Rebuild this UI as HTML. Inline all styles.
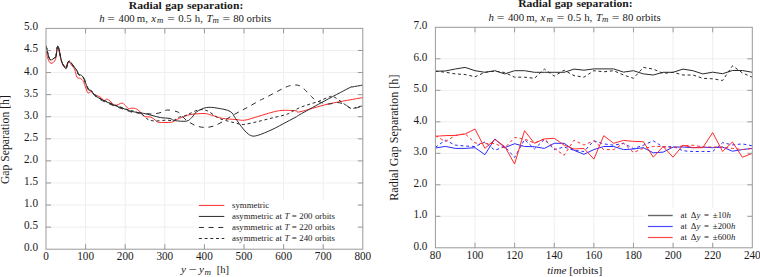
<!DOCTYPE html><html><head><meta charset="utf-8"><style>html,body{margin:0;padding:0;background:#fff;}svg{display:block}</style></head><body>
<svg width="760" height="277" viewBox="0 0 760 277" style="font-family:'Liberation Serif', serif">
<rect width="760" height="277" fill="#fff"/>
<g stroke="#eeeeee" stroke-width="1" fill="none"><line x1="85.6" y1="28.4" x2="85.6" y2="249.2"/><line x1="125.2" y1="28.4" x2="125.2" y2="249.2"/><line x1="164.8" y1="28.4" x2="164.8" y2="249.2"/><line x1="204.4" y1="28.4" x2="204.4" y2="249.2"/><line x1="244" y1="28.4" x2="244" y2="249.2"/><line x1="283.6" y1="28.4" x2="283.6" y2="249.2"/><line x1="323.2" y1="28.4" x2="323.2" y2="249.2"/><line x1="46" y1="227.12" x2="362.8" y2="227.12"/><line x1="46" y1="205.04" x2="362.8" y2="205.04"/><line x1="46" y1="182.96" x2="362.8" y2="182.96"/><line x1="46" y1="160.88" x2="362.8" y2="160.88"/><line x1="46" y1="138.8" x2="362.8" y2="138.8"/><line x1="46" y1="116.72" x2="362.8" y2="116.72"/><line x1="46" y1="94.64" x2="362.8" y2="94.64"/><line x1="46" y1="72.56" x2="362.8" y2="72.56"/><line x1="46" y1="50.48" x2="362.8" y2="50.48"/></g>
<g stroke="#eeeeee" stroke-width="1" fill="none"><line x1="475.01" y1="27.3" x2="475.01" y2="247.8"/><line x1="514.62" y1="27.3" x2="514.62" y2="247.8"/><line x1="554.24" y1="27.3" x2="554.24" y2="247.8"/><line x1="593.85" y1="27.3" x2="593.85" y2="247.8"/><line x1="633.46" y1="27.3" x2="633.46" y2="247.8"/><line x1="673.08" y1="27.3" x2="673.08" y2="247.8"/><line x1="712.69" y1="27.3" x2="712.69" y2="247.8"/><line x1="435.4" y1="216.3" x2="752.3" y2="216.3"/><line x1="435.4" y1="184.8" x2="752.3" y2="184.8"/><line x1="435.4" y1="153.3" x2="752.3" y2="153.3"/><line x1="435.4" y1="121.8" x2="752.3" y2="121.8"/><line x1="435.4" y1="90.3" x2="752.3" y2="90.3"/><line x1="435.4" y1="58.8" x2="752.3" y2="58.8"/></g>
<defs><clipPath id="cl"><rect x="46.0" y="28.4" width="316.8" height="220.79999999999998"/></clipPath><clipPath id="cr"><rect x="435.4" y="27.3" width="316.9" height="220.5"/></clipPath></defs>
<g clip-path="url(#cl)" fill="none" stroke-width="1.0" stroke-linejoin="round">
<path stroke="#ff2a2a" d="M46.2,50.3 C46.47,51.65 47,56.23 47.8,58.4 C48.6,60.57 49.73,63.12 51,63.3 C52.27,63.48 54.32,62.03 55.4,59.5 C56.48,56.97 56.78,49 57.5,48.1 C58.22,47.2 58.78,51.2 59.7,54.1 C60.62,57 61.92,63.43 63,65.5 C64.08,67.57 65.32,67.15 66.2,66.5 C67.08,65.85 67.3,61.68 68.3,61.6 C69.3,61.52 71.12,64.63 72.2,66 C73.28,67.37 74,67.92 74.8,69.8 C75.6,71.68 76.08,75.87 77,77.3 C77.92,78.73 79.3,77.85 80.3,78.4 C81.3,78.95 82.3,79.63 83,80.6 C83.7,81.57 83.7,82.17 84.5,84.2 C85.3,86.23 86.72,91.53 87.8,92.8 C88.88,94.07 89.65,91.35 91,91.8 C92.35,92.25 94.45,94.7 95.9,95.5 C97.35,96.3 98.35,95.78 99.7,96.6 C101.05,97.42 102.82,99.98 104,100.4 C105.18,100.82 105.8,99 106.8,99.1 C107.8,99.2 108.65,99.97 110,101 C111.35,102.03 112.92,104.95 114.9,105.3 C116.88,105.65 120.28,103.18 121.9,103.1 C123.52,103.02 123.52,103.9 124.6,104.8 C125.68,105.7 127.25,107.93 128.4,108.5 C129.55,109.07 130.32,108.2 131.5,108.2 C132.68,108.2 134.1,107.95 135.5,108.5 C136.9,109.05 138.45,110.2 139.9,111.5 C141.35,112.8 142.33,115.35 144.2,116.3 C146.07,117.25 149.23,116.55 151.1,117.2 C152.97,117.85 154.1,119.35 155.4,120.2 C156.7,121.05 156.23,121.97 158.9,122.3 C161.57,122.63 168.58,122.58 171.4,122.2 C174.22,121.82 173.82,120.9 175.8,120 C177.78,119.1 180.93,117.7 183.3,116.8 C185.67,115.9 186.53,115.15 190,114.6 C193.47,114.05 200.48,113.4 204.1,113.5 C207.72,113.6 208.63,114.38 211.7,115.2 C214.77,116.02 218.45,117.68 222.5,118.4 C226.55,119.12 232.3,119.2 236,119.5 C239.7,119.8 241.1,120.68 244.7,120.2 C248.3,119.72 253.05,117.92 257.6,116.6 C262.15,115.28 267.9,113.33 272,112.3 C276.1,111.27 278.2,110.65 282.2,110.4 C286.2,110.15 293.03,110.57 296,110.8 C298.97,111.03 294.52,112.95 300,111.8 C305.48,110.65 318.43,106.27 328.9,103.9 C339.37,101.53 357.15,98.65 362.8,97.6"/>
<path stroke="#2a2a2a" d="M46.2,46 C46.38,46.8 46.85,48.92 47.3,50.8 C47.75,52.68 48.28,55.77 48.9,57.3 C49.52,58.83 50.1,59.9 51,60 C51.9,60.1 53.48,58.52 54.3,57.9 C55.12,57.28 55.37,58.2 55.9,56.3 C56.43,54.4 56.95,47.58 57.5,46.5 C58.05,45.42 58.57,47.45 59.2,49.8 C59.83,52.15 60.45,57.82 61.3,60.6 C62.15,63.38 63.48,65.18 64.3,66.5 C65.12,67.82 65.43,69.4 66.2,68.5 C66.97,67.6 67.63,61.43 68.9,61.1 C70.17,60.77 72.45,64.88 73.8,66.5 C75.15,68.12 76.2,69.45 77,70.8 C77.8,72.15 77.88,73.87 78.6,74.6 C79.32,75.33 80.3,74.38 81.3,75.2 C82.3,76.02 83.97,78.37 84.6,79.5 C85.23,80.63 84.48,80.42 85.1,82 C85.72,83.58 87.32,87.55 88.3,89 C89.28,90.45 89.92,89.7 91,90.7 C92.08,91.7 93.43,93.73 94.8,95 C96.17,96.27 97.38,97.22 99.2,98.3 C101.02,99.38 103.18,100.33 105.7,101.5 C108.22,102.67 111.6,104.22 114.3,105.3 C117,106.38 119.37,107.1 121.9,108 C124.43,108.9 127.37,110.03 129.5,110.7 C131.63,111.37 132.4,111.57 134.7,112 C137,112.43 140.42,112.73 143.3,113.3 C146.18,113.87 149.12,114.68 152,115.4 C154.88,116.12 157.6,117.08 160.6,117.6 C163.6,118.12 167.65,118 170,118.5 C172.35,119 171.93,120.17 174.7,120.6 C177.47,121.03 183.72,121.65 186.6,121.1 C189.48,120.55 190.35,118.83 192,117.3 C193.65,115.77 194.12,113.52 196.5,111.9 C198.88,110.28 202.87,108.23 206.3,107.6 C209.73,106.97 213.13,107.47 217.1,108.1 C221.07,108.73 227.03,109.68 230.1,111.4 C233.17,113.12 233.32,115.48 235.5,118.4 C237.68,121.32 240.72,126.07 243.2,128.9 C245.68,131.73 248,134.32 250.4,135.4 C252.8,136.48 254,136.37 257.6,135.4 C261.2,134.43 267.18,131.83 272,129.6 C276.82,127.37 282.5,124.1 286.5,122 C290.5,119.9 293.75,118.25 296,117 C298.25,115.75 295.72,116.92 300,114.5 C304.28,112.08 313.53,106.92 321.7,102.5 C329.87,98.08 343.95,90.58 349,88 C354.05,85.42 349.7,87.48 352,87 C354.3,86.52 361,85.42 362.8,85.1"/>
<path stroke="#2a2a2a" stroke-dasharray="5 4.7" d="M46.2,46 C46.38,46.8 46.85,48.92 47.3,50.8 C47.75,52.68 48.28,55.77 48.9,57.3 C49.52,58.83 50.1,59.9 51,60 C51.9,60.1 53.48,58.52 54.3,57.9 C55.12,57.28 55.37,58.2 55.9,56.3 C56.43,54.4 56.95,47.58 57.5,46.5 C58.05,45.42 58.57,47.45 59.2,49.8 C59.83,52.15 60.45,57.82 61.3,60.6 C62.15,63.38 63.48,65.18 64.3,66.5 C65.12,67.82 65.43,69.4 66.2,68.5 C66.97,67.6 67.63,61.43 68.9,61.1 C70.17,60.77 72.45,64.88 73.8,66.5 C75.15,68.12 76.2,69.45 77,70.8 C77.8,72.15 77.88,73.87 78.6,74.6 C79.32,75.33 80.3,74.27 81.3,75.2 C82.3,76.13 83.97,78.95 84.6,80.2 C85.23,81.45 84.48,81.12 85.1,82.7 C85.72,84.28 87.32,88.25 88.3,89.7 C89.28,91.15 89.92,90.4 91,91.4 C92.08,92.4 93.43,94.43 94.8,95.7 C96.17,96.97 97.38,97.92 99.2,99 C101.02,100.08 103.18,101.03 105.7,102.2 C108.22,103.37 111.6,104.92 114.3,106 C117,107.08 119.37,107.8 121.9,108.7 C124.43,109.6 127.37,110.73 129.5,111.4 C131.63,112.07 132.12,112.35 134.7,112.7 C137.28,113.05 142.12,113.28 145,113.5 C147.88,113.72 149.67,114.08 152,114 C154.33,113.92 157,113.5 159,113 C161,112.5 162.5,111.5 164,111 C165.5,110.5 165.83,109.88 168,110 C170.17,110.12 174.83,110.93 177,111.7 C179.17,112.47 179.5,113.23 181,114.6 C182.5,115.97 183.67,118.12 186,119.9 C188.33,121.68 192,124.05 195,125.3 C198,126.55 200.92,127.27 204,127.4 C207.08,127.53 210.5,127 213.5,126.1 C216.5,125.2 219.08,123.63 222,122 C224.92,120.37 227.83,118.17 231,116.3 C234.17,114.43 237.83,112.52 241,110.8 C244.17,109.08 246.75,107.8 250,106 C253.25,104.2 257.95,101.37 260.5,100 C263.05,98.63 261.1,99.93 265.3,97.8 C269.5,95.67 280.87,89.32 285.7,87.2 C290.53,85.08 292.05,85.37 294.3,85.1 C296.55,84.83 297.57,84.95 299.2,85.6 C300.83,86.25 302.07,87.2 304.1,89 C306.13,90.8 309.35,94.45 311.4,96.4 C313.45,98.35 313.63,99.43 316.4,100.7 C319.17,101.97 324.57,103.7 328,104 C331.43,104.3 334.17,102.42 337,102.5 C339.83,102.58 342.5,103.5 345,104.5 C347.5,105.5 349.03,108.25 352,108.5 C354.97,108.75 361,106.42 362.8,106"/>
<path stroke="#2a2a2a" stroke-dasharray="3 2.7" d="M46.2,46 C46.38,46.8 46.85,48.92 47.3,50.8 C47.75,52.68 48.28,55.77 48.9,57.3 C49.52,58.83 50.1,59.9 51,60 C51.9,60.1 53.48,58.52 54.3,57.9 C55.12,57.28 55.37,58.2 55.9,56.3 C56.43,54.4 56.95,47.58 57.5,46.5 C58.05,45.42 58.57,47.45 59.2,49.8 C59.83,52.15 60.45,57.82 61.3,60.6 C62.15,63.38 63.48,65.18 64.3,66.5 C65.12,67.82 65.43,69.4 66.2,68.5 C66.97,67.6 67.63,61.43 68.9,61.1 C70.17,60.77 72.45,64.88 73.8,66.5 C75.15,68.12 76.2,69.45 77,70.8 C77.8,72.15 77.88,73.87 78.6,74.6 C79.32,75.33 80.3,74.47 81.3,75.2 C82.3,75.93 83.97,77.95 84.6,79 C85.23,80.05 84.48,79.92 85.1,81.5 C85.72,83.08 87.32,87.05 88.3,88.5 C89.28,89.95 89.92,89.2 91,90.2 C92.08,91.2 93.43,93.23 94.8,94.5 C96.17,95.77 97.38,96.72 99.2,97.8 C101.02,98.88 103.18,99.83 105.7,101 C108.22,102.17 111.6,103.72 114.3,104.8 C117,105.88 119.37,106.6 121.9,107.5 C124.43,108.4 127.37,109.53 129.5,110.2 C131.63,110.87 132.45,110.7 134.7,111.5 C136.95,112.3 140.78,113.67 143,115 C145.22,116.33 146,118.5 148,119.5 C150,120.5 152,120.88 155,121 C158,121.12 162.92,120.28 166,120.2 C169.08,120.12 171.5,120.95 173.5,120.5 C175.5,120.05 175.92,118.33 178,117.5 C180.08,116.67 184,116.17 186,115.5 C188,114.83 187.88,114.45 190,113.5 C192.12,112.55 195.82,110.25 198.7,109.8 C201.58,109.35 204.05,109.45 207.3,110.8 C210.55,112.15 214.77,116.18 218.2,117.9 C221.63,119.62 224.93,120.23 227.9,121.1 C230.87,121.97 233.45,122.53 236,123.1 C238.55,123.67 239.6,124.75 243.2,124.5 C246.8,124.25 252.8,122.68 257.6,121.6 C262.4,120.52 267.18,119.2 272,118 C276.82,116.8 283,115.57 286.5,114.4 C290,113.23 290.68,112.17 293,111 C295.32,109.83 297.73,108.5 300.4,107.4 C303.07,106.3 305.93,105.42 309,104.4 C312.07,103.38 315.73,102.43 318.8,101.3 C321.87,100.17 325.15,98.42 327.4,97.6 C329.65,96.78 330.78,96.27 332.3,96.4 C333.82,96.53 334.88,97.42 336.5,98.4 C338.12,99.38 340.42,101.15 342,102.3 C343.58,103.45 344.5,104.27 346,105.3 C347.5,106.33 349.7,108 351,108.5 C352.3,109 352.8,108.55 353.8,108.3 C354.8,108.05 355.5,107.38 357,107 C358.5,106.62 361.83,106.17 362.8,106"/>
</g>
<g clip-path="url(#cr)" fill="none" stroke-width="1.0" stroke-linejoin="miter">
<polyline stroke="#2a2a2a" points="435.4,71.2 445.3,71 455.21,69 465.11,67.4 475.01,70.7 484.92,72.3 494.82,70.7 504.72,73.9 514.62,70.7 524.53,70.7 534.43,72.3 544.33,72.3 554.24,72.3 564.14,72.3 574.04,69.1 583.95,70.2 593.85,68.9 603.75,68.9 613.66,68.9 623.56,72.1 633.46,70.7 643.37,73.9 653.27,75 663.17,72.3 673.07,72.3 682.98,69.1 692.88,70.7 702.78,73.9 712.69,72.2 722.59,73.7 732.49,70.5 742.4,70.5 752.3,72.3"/>
<polyline stroke="#2a2a2a" stroke-dasharray="3 2.7" points="435.4,71.2 445.3,72.2 455.21,73.9 465.11,74.5 475.01,76.8 484.92,72.3 494.82,71.2 504.72,72.5 514.62,77.2 524.53,77.2 534.43,78.3 544.33,69.1 554.24,76.1 564.14,70.2 574.04,75.6 583.95,77.2 593.85,70.7 603.75,71.8 613.66,70.7 623.56,75 633.46,78.3 643.37,67.4 653.27,69.1 663.17,73.4 673.07,72.3 682.98,75 692.88,75 702.78,78.3 712.69,78.8 722.59,80.5 732.49,65.8 742.4,72.9 752.3,77.2"/>
<polyline stroke="#2a2aff" points="435.4,148 445.3,146.4 455.21,148.4 465.11,148.4 475.01,147.7 484.92,154.7 494.82,138.9 504.72,147.7 514.62,143.7 524.53,146.5 534.43,146.7 544.33,148.4 554.24,143.3 564.14,143.3 574.04,150.3 583.95,154.3 593.85,149.6 603.75,146.5 613.66,146.5 623.56,149.6 633.46,149 643.37,147.7 653.27,152.8 663.17,152.1 673.07,147.1 682.98,147 692.88,147.7 702.78,147.1 712.69,147.7 722.59,147.1 732.49,151.2 742.4,149.6 752.3,148.4"/>
<polyline stroke="#2a2aff" stroke-dasharray="3 2.7" points="435.4,147.3 445.3,140.2 455.21,145.1 465.11,146 475.01,146.5 484.92,142 494.82,150.3 504.72,146.5 514.62,157.5 524.53,139.5 534.43,148.9 544.33,139.5 554.24,149.6 564.14,147 574.04,150.3 583.95,151.5 593.85,140.8 603.75,143.9 613.66,145.2 623.56,143.3 633.46,148.6 643.37,145.2 653.27,140.8 663.17,147.1 673.07,146.5 682.98,150.8 692.88,151.5 702.78,151.5 712.69,151.5 722.59,142.7 732.49,144.9 742.4,143.9 752.3,145.8"/>
<polyline stroke="#ff2a2a" points="435.4,136.3 445.3,135.6 455.21,135.4 465.11,134 475.01,129 484.92,148.4 494.82,139.5 504.72,146.5 514.62,164 524.53,130.7 534.43,143.3 544.33,138.9 554.24,138.3 564.14,145.2 574.04,149 583.95,148.4 593.85,159.1 603.75,135.7 613.66,143.3 623.56,140.4 633.46,141.4 643.37,141.7 653.27,157.2 663.17,146.5 673.07,157.2 682.98,145.2 692.88,147.7 702.78,147.7 712.69,132.6 722.59,151.5 732.49,142 742.4,157.2 752.3,153.4"/>
<polyline stroke="#ff2a2a" stroke-dasharray="3 2.7" points="435.4,135.6 445.3,141.5 455.21,135.6 465.11,133.7 475.01,143 484.92,143.7 494.82,143.5 504.72,148 514.62,137.5 524.53,139 534.43,143 544.33,138.9 554.24,148.4 564.14,155.3 574.04,140.2 583.95,145 593.85,140.8 603.75,149.6 613.66,149.6 623.56,143.3 633.46,152.5 643.37,148.4 653.27,146.5 663.17,146.5 673.07,147.7 682.98,145.8 692.88,145.2 702.78,147 712.69,147 722.59,147.1 732.49,148.4 742.4,149.6 752.3,148.4"/>
</g>
<rect x="194" y="200" width="164" height="44" fill="#fff"/>
<line x1="198.9" y1="205.4" x2="224.3" y2="205.4" stroke="#ff2a2a" stroke-width="1"/>
<text x="232" y="208.4" font-size="8.8" word-spacing="0.3" fill="#1a1a1a">symmetric</text>
<line x1="198.9" y1="216.43" x2="224.3" y2="216.43" stroke="#2a2a2a" stroke-width="1"/>
<text x="232" y="219.43" font-size="8.8" word-spacing="0.3" fill="#1a1a1a">asymmetric at <tspan font-style="italic">T</tspan> = 200 orbits</text>
<line x1="198.9" y1="227.46" x2="224.3" y2="227.46" stroke="#2a2a2a" stroke-width="1" stroke-dasharray="5 4.7"/>
<text x="232" y="230.46" font-size="8.8" word-spacing="0.3" fill="#1a1a1a">asymmetric at <tspan font-style="italic">T</tspan> = 220 orbits</text>
<line x1="198.9" y1="238.49" x2="224.3" y2="238.49" stroke="#2a2a2a" stroke-width="1" stroke-dasharray="3 2.7"/>
<text x="232" y="241.49" font-size="8.8" word-spacing="0.3" fill="#1a1a1a">asymmetric at <tspan font-style="italic">T</tspan> = 240 orbits</text>
<rect x="644" y="208" width="104" height="35" fill="#fff"/>
<line x1="647.9" y1="215.5" x2="672.7" y2="215.5" stroke="#666" stroke-width="1.4"/>
<text x="680.6" y="217.8" font-size="8.8" word-spacing="1.6" fill="#1a1a1a">at Δ<tspan font-style='italic'>y</tspan> = ±10<tspan font-style='italic'>h</tspan></text>
<line x1="647.9" y1="226.5" x2="672.7" y2="226.5" stroke="#4a4aff" stroke-width="1.2"/>
<text x="680.6" y="228.8" font-size="8.8" word-spacing="1.6" fill="#1a1a1a">at Δ<tspan font-style='italic'>y</tspan> = ±200<tspan font-style='italic'>h</tspan></text>
<line x1="647.9" y1="237.5" x2="672.7" y2="237.5" stroke="#ff4a4a" stroke-width="1.2"/>
<text x="680.6" y="239.8" font-size="8.8" word-spacing="1.6" fill="#1a1a1a">at Δ<tspan font-style='italic'>y</tspan> = ±600<tspan font-style='italic'>h</tspan></text>
<g stroke="#999999" stroke-width="1.0" fill="none"><line x1="85.6" y1="249.2" x2="85.6" y2="244.2"/><line x1="85.6" y1="28.4" x2="85.6" y2="33.4"/><line x1="125.2" y1="249.2" x2="125.2" y2="244.2"/><line x1="125.2" y1="28.4" x2="125.2" y2="33.4"/><line x1="164.8" y1="249.2" x2="164.8" y2="244.2"/><line x1="164.8" y1="28.4" x2="164.8" y2="33.4"/><line x1="204.4" y1="249.2" x2="204.4" y2="244.2"/><line x1="204.4" y1="28.4" x2="204.4" y2="33.4"/><line x1="244" y1="249.2" x2="244" y2="244.2"/><line x1="244" y1="28.4" x2="244" y2="33.4"/><line x1="283.6" y1="249.2" x2="283.6" y2="244.2"/><line x1="283.6" y1="28.4" x2="283.6" y2="33.4"/><line x1="323.2" y1="249.2" x2="323.2" y2="244.2"/><line x1="323.2" y1="28.4" x2="323.2" y2="33.4"/><line x1="46" y1="227.12" x2="51" y2="227.12"/><line x1="362.8" y1="227.12" x2="357.8" y2="227.12"/><line x1="46" y1="205.04" x2="51" y2="205.04"/><line x1="362.8" y1="205.04" x2="357.8" y2="205.04"/><line x1="46" y1="182.96" x2="51" y2="182.96"/><line x1="362.8" y1="182.96" x2="357.8" y2="182.96"/><line x1="46" y1="160.88" x2="51" y2="160.88"/><line x1="362.8" y1="160.88" x2="357.8" y2="160.88"/><line x1="46" y1="138.8" x2="51" y2="138.8"/><line x1="362.8" y1="138.8" x2="357.8" y2="138.8"/><line x1="46" y1="116.72" x2="51" y2="116.72"/><line x1="362.8" y1="116.72" x2="357.8" y2="116.72"/><line x1="46" y1="94.64" x2="51" y2="94.64"/><line x1="362.8" y1="94.64" x2="357.8" y2="94.64"/><line x1="46" y1="72.56" x2="51" y2="72.56"/><line x1="362.8" y1="72.56" x2="357.8" y2="72.56"/><line x1="46" y1="50.48" x2="51" y2="50.48"/><line x1="362.8" y1="50.48" x2="357.8" y2="50.48"/><rect x="46" y="28.4" width="316.8" height="220.8"/></g>
<g stroke="#999999" stroke-width="1.0" fill="none"><line x1="475.01" y1="247.8" x2="475.01" y2="242.8"/><line x1="475.01" y1="27.3" x2="475.01" y2="32.3"/><line x1="514.62" y1="247.8" x2="514.62" y2="242.8"/><line x1="514.62" y1="27.3" x2="514.62" y2="32.3"/><line x1="554.24" y1="247.8" x2="554.24" y2="242.8"/><line x1="554.24" y1="27.3" x2="554.24" y2="32.3"/><line x1="593.85" y1="247.8" x2="593.85" y2="242.8"/><line x1="593.85" y1="27.3" x2="593.85" y2="32.3"/><line x1="633.46" y1="247.8" x2="633.46" y2="242.8"/><line x1="633.46" y1="27.3" x2="633.46" y2="32.3"/><line x1="673.08" y1="247.8" x2="673.08" y2="242.8"/><line x1="673.08" y1="27.3" x2="673.08" y2="32.3"/><line x1="712.69" y1="247.8" x2="712.69" y2="242.8"/><line x1="712.69" y1="27.3" x2="712.69" y2="32.3"/><line x1="435.4" y1="216.3" x2="440.4" y2="216.3"/><line x1="752.3" y1="216.3" x2="747.3" y2="216.3"/><line x1="435.4" y1="184.8" x2="440.4" y2="184.8"/><line x1="752.3" y1="184.8" x2="747.3" y2="184.8"/><line x1="435.4" y1="153.3" x2="440.4" y2="153.3"/><line x1="752.3" y1="153.3" x2="747.3" y2="153.3"/><line x1="435.4" y1="121.8" x2="440.4" y2="121.8"/><line x1="752.3" y1="121.8" x2="747.3" y2="121.8"/><line x1="435.4" y1="90.3" x2="440.4" y2="90.3"/><line x1="752.3" y1="90.3" x2="747.3" y2="90.3"/><line x1="435.4" y1="58.8" x2="440.4" y2="58.8"/><line x1="752.3" y1="58.8" x2="747.3" y2="58.8"/><rect x="435.4" y="27.3" width="316.9" height="220.5"/></g>
<g font-size="11.2" fill="#1a1a1a" dominant-baseline="auto"><text transform="translate(46,260.1) scale(1,1.13)" text-anchor="middle">0</text><text transform="translate(85.6,260.1) scale(1,1.13)" text-anchor="middle">100</text><text transform="translate(125.2,260.1) scale(1,1.13)" text-anchor="middle">200</text><text transform="translate(164.8,260.1) scale(1,1.13)" text-anchor="middle">300</text><text transform="translate(204.4,260.1) scale(1,1.13)" text-anchor="middle">400</text><text transform="translate(244,260.1) scale(1,1.13)" text-anchor="middle">500</text><text transform="translate(283.6,260.1) scale(1,1.13)" text-anchor="middle">600</text><text transform="translate(323.2,260.1) scale(1,1.13)" text-anchor="middle">700</text><text transform="translate(362.8,260.1) scale(1,1.13)" text-anchor="middle">800</text><text transform="translate(38,251.2) scale(1,1.13)" text-anchor="end">0.0</text><text transform="translate(38,229.12) scale(1,1.13)" text-anchor="end">0.5</text><text transform="translate(38,207.04) scale(1,1.13)" text-anchor="end">1.0</text><text transform="translate(38,184.96) scale(1,1.13)" text-anchor="end">1.5</text><text transform="translate(38,162.88) scale(1,1.13)" text-anchor="end">2.0</text><text transform="translate(38,140.8) scale(1,1.13)" text-anchor="end">2.5</text><text transform="translate(38,118.72) scale(1,1.13)" text-anchor="end">3.0</text><text transform="translate(38,96.64) scale(1,1.13)" text-anchor="end">3.5</text><text transform="translate(38,74.56) scale(1,1.13)" text-anchor="end">4.0</text><text transform="translate(38,52.48) scale(1,1.13)" text-anchor="end">4.5</text><text transform="translate(38,30.4) scale(1,1.13)" text-anchor="end">5.0</text></g>
<g font-size="11.2" fill="#1a1a1a" dominant-baseline="auto"><text transform="translate(435.4,258.7) scale(1,1.13)" text-anchor="middle">80</text><text transform="translate(475.01,258.7) scale(1,1.13)" text-anchor="middle">100</text><text transform="translate(514.62,258.7) scale(1,1.13)" text-anchor="middle">120</text><text transform="translate(554.24,258.7) scale(1,1.13)" text-anchor="middle">140</text><text transform="translate(593.85,258.7) scale(1,1.13)" text-anchor="middle">160</text><text transform="translate(633.46,258.7) scale(1,1.13)" text-anchor="middle">180</text><text transform="translate(673.08,258.7) scale(1,1.13)" text-anchor="middle">200</text><text transform="translate(712.69,258.7) scale(1,1.13)" text-anchor="middle">220</text><text transform="translate(752.3,258.7) scale(1,1.13)" text-anchor="middle">240</text><text transform="translate(427.4,249.8) scale(1,1.13)" text-anchor="end">0.0</text><text transform="translate(427.4,218.3) scale(1,1.13)" text-anchor="end">1.0</text><text transform="translate(427.4,186.8) scale(1,1.13)" text-anchor="end">2.0</text><text transform="translate(427.4,155.3) scale(1,1.13)" text-anchor="end">3.0</text><text transform="translate(427.4,123.8) scale(1,1.13)" text-anchor="end">4.0</text><text transform="translate(427.4,92.3) scale(1,1.13)" text-anchor="end">5.0</text><text transform="translate(427.4,60.8) scale(1,1.13)" text-anchor="end">6.0</text><text transform="translate(427.4,29.3) scale(1,1.13)" text-anchor="end">7.0</text></g>
<text transform="translate(186,8.7) scale(1.10,1)" text-anchor="middle" font-size="10.6" font-weight="bold" word-spacing="0.6" fill="#1a1a1a">Radial gap separation:</text>
<text x="99.2" y="21.9" font-size="10.8" font-style="italic" fill="#1a1a1a">h</text><text transform="translate(107.3,21.9) scale(1.25,1)" font-size="10.8" fill="#1a1a1a">=</text><text x="118.5" y="21.9" font-size="10.8" fill="#1a1a1a">400</text><text x="136.8" y="21.9" font-size="10.8" fill="#1a1a1a">m,</text><text x="151.2" y="21.9" font-size="10.8" font-style="italic" fill="#1a1a1a">x</text><text x="157" y="23.4" font-size="8.8" font-style="italic" fill="#1a1a1a">m</text><text transform="translate(167.3,21.9) scale(1.25,1)" font-size="10.8" fill="#1a1a1a">=</text><text x="178.2" y="21.9" font-size="10.8" fill="#1a1a1a">0.5</text><text x="194.8" y="21.9" font-size="10.8" fill="#1a1a1a">h,</text><text x="206.5" y="21.9" font-size="10.8" font-style="italic" fill="#1a1a1a">T</text><text x="212.6" y="23.4" font-size="8.8" font-style="italic" fill="#1a1a1a">m</text><text transform="translate(222.4,21.9) scale(1.25,1)" font-size="10.8" fill="#1a1a1a">=</text><text x="233.2" y="21.9" font-size="10.8" fill="#1a1a1a">80</text><text x="246.6" y="21.9" font-size="10.8" fill="#1a1a1a">orbits</text>
<text transform="translate(575.4,7.4) scale(1.10,1)" text-anchor="middle" font-size="10.6" font-weight="bold" word-spacing="0.6" fill="#1a1a1a">Radial gap separation:</text>
<text x="488.6" y="20.6" font-size="10.8" font-style="italic" fill="#1a1a1a">h</text><text transform="translate(496.7,20.6) scale(1.25,1)" font-size="10.8" fill="#1a1a1a">=</text><text x="507.9" y="20.6" font-size="10.8" fill="#1a1a1a">400</text><text x="526.2" y="20.6" font-size="10.8" fill="#1a1a1a">m,</text><text x="540.6" y="20.6" font-size="10.8" font-style="italic" fill="#1a1a1a">x</text><text x="546.4" y="22.1" font-size="8.8" font-style="italic" fill="#1a1a1a">m</text><text transform="translate(556.7,20.6) scale(1.25,1)" font-size="10.8" fill="#1a1a1a">=</text><text x="567.6" y="20.6" font-size="10.8" fill="#1a1a1a">0.5</text><text x="584.2" y="20.6" font-size="10.8" fill="#1a1a1a">h,</text><text x="595.9" y="20.6" font-size="10.8" font-style="italic" fill="#1a1a1a">T</text><text x="602" y="22.1" font-size="8.8" font-style="italic" fill="#1a1a1a">m</text><text transform="translate(611.8,20.6) scale(1.25,1)" font-size="10.8" fill="#1a1a1a">=</text><text x="622.6" y="20.6" font-size="10.8" fill="#1a1a1a">80</text><text x="636" y="20.6" font-size="10.8" fill="#1a1a1a">orbits</text>
<text transform="translate(8.7,139.6) rotate(-90)" text-anchor="middle" font-size="11.7" fill="#1a1a1a">Gap Separation [h]</text>
<text transform="translate(397.9,137.65) rotate(-90)" text-anchor="middle" font-size="12.05" fill="#1a1a1a">Radial Gap Separation [h]</text>
<text x="181" y="273.3" font-size="11.2" font-style="italic" fill="#1a1a1a">y</text><text transform="translate(188.6,273.3) scale(1.28,1)" font-size="11.2" fill="#1a1a1a">−</text><text x="198.9" y="273.3" font-size="11.2" font-style="italic" fill="#1a1a1a">y</text><text x="204.6" y="275.2" font-size="9" font-style="italic" fill="#1a1a1a">m</text><text x="216.8" y="273.3" font-size="10.6" fill="#1a1a1a">[h]</text>
<text x="574.7" y="274.2" text-anchor="middle" font-size="11.2" fill="#1a1a1a"><tspan font-style="italic">time</tspan> [orbits]</text>
</svg></body></html>
